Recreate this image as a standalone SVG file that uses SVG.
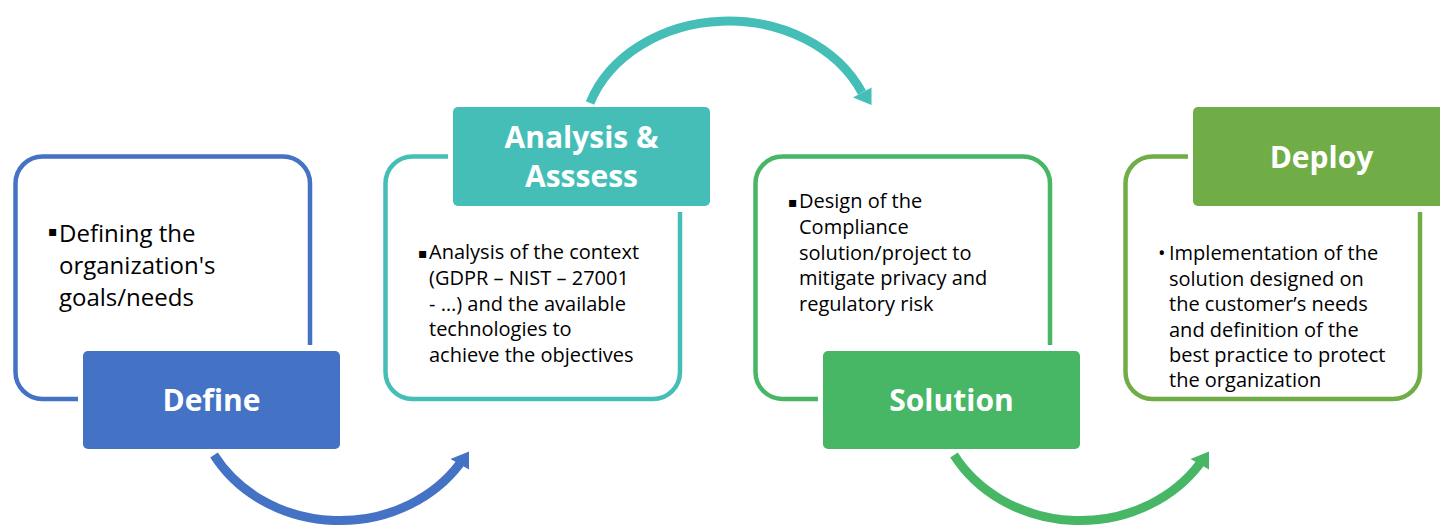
<svg xmlns="http://www.w3.org/2000/svg" width="1440" height="527" viewBox="0 0 1440 527">
<style>
.outline{fill:none;stroke-width:4.5}
.arc{fill:none;stroke-width:9}
.lbl{font-family:"Open Sans","Noto Sans","DejaVu Sans",sans-serif;font-weight:700;font-size:30px;fill:#fff;text-anchor:middle}
.body{font-family:"Open Sans","Noto Sans","DejaVu Sans",sans-serif;font-size:20px;fill:#000}
.big{font-size:24px}
.sq{font-family:"DejaVu Sans",sans-serif;font-size:14px;fill:#000}
.blue{stroke:#4472C4}
.teal{stroke:#45BEB8}
.green{stroke:#47B766}
.olive{stroke:#70AD47}
</style>
<rect width="1440" height="527" fill="#fff"/>
<g id="connectors">
<path class="arc blue" d="M 214 455 A 145 130 0 0 0 460 463.5"/>
<polygon fill="#4472C4" points="469,451.5 450.5,459 469,469.5"/>
<path class="arc teal" d="M 590 103 A 146 120 0 0 1 862 92.5"/>
<polygon fill="#45BEB8" points="853,97.5 871.5,87.5 871.5,105"/>
<path class="arc green" d="M 954 455 A 145 130 0 0 0 1200 463.5"/>
<polygon fill="#47B766" points="1209,451.5 1190.5,459 1209,469.5"/>
</g>
<g id="define">
<path class="outline blue" d="M 310 345 V 183.5 A 27 27 0 0 0 283 156.5 H 42.5 A 27 27 0 0 0 15.5 183.5 V 372 A 27 27 0 0 0 42.5 399 H 78"/>
<text class="sq" x="48" y="236">▪</text>
<text class="body big"><tspan x="59" y="242">Defining the</tspan><tspan x="59" y="274">organization's</tspan><tspan x="59" y="306">goals/needs</tspan></text>
<rect x="83" y="351" width="257" height="98" rx="5" fill="#4472C4"/>
<text class="lbl" x="211.5" y="411">Define</text>
</g>
<g id="analysis">
<path class="outline teal" d="M 448 156.5 H 412.5 A 27 27 0 0 0 385.5 183.5 V 372 A 27 27 0 0 0 412.5 399 H 653 A 27 27 0 0 0 680 372 V 212"/>
<text class="sq" x="418" y="258">▪</text>
<text class="body"><tspan x="429" y="259">Analysis of the context</tspan><tspan x="429" y="285">(GDPR – NIST – 27001</tspan><tspan x="429" y="311">- …) and the available</tspan><tspan x="429" y="336">technologies to</tspan><tspan x="429" y="362">achieve the objectives</tspan></text>
<rect x="453" y="107" width="257" height="99" rx="5" fill="#45BEB8"/>
<text class="lbl"><tspan x="581.5" y="148">Analysis &amp;</tspan><tspan x="581.5" y="187">Asssess</tspan></text>
</g>
<g id="solution">
<path class="outline green" d="M 1050 345 V 183.5 A 27 27 0 0 0 1023 156.5 H 782.5 A 27 27 0 0 0 755.5 183.5 V 372 A 27 27 0 0 0 782.5 399 H 818"/>
<text class="sq" x="788" y="207">▪</text>
<text class="body"><tspan x="799" y="208">Design of the</tspan><tspan x="799" y="234">Compliance</tspan><tspan x="799" y="259.5">solution/project to</tspan><tspan x="799" y="285">mitigate privacy and</tspan><tspan x="799" y="311">regulatory risk</tspan></text>
<rect x="823" y="351" width="257" height="98" rx="5" fill="#47B766"/>
<text class="lbl" x="951.5" y="411">Solution</text>
</g>
<g id="deploy">
<path class="outline olive" d="M 1188 156.5 H 1152.5 A 27 27 0 0 0 1125.5 183.5 V 372 A 27 27 0 0 0 1152.5 399 H 1393 A 27 27 0 0 0 1420 372 V 212"/>
<text class="body" x="1158" y="260">•</text>
<text class="body"><tspan x="1169" y="260">Implementation of the</tspan><tspan x="1169" y="285.5">solution designed on</tspan><tspan x="1169" y="311">the customer’s needs</tspan><tspan x="1169" y="336.5">and definition of the</tspan><tspan x="1169" y="362">best practice to protect</tspan><tspan x="1169" y="387">the organization</tspan></text>
<rect x="1193" y="107" width="257" height="99" rx="5" fill="#70AD47"/>
<text class="lbl" x="1321.5" y="168">Deploy</text>
</g>
</svg>
